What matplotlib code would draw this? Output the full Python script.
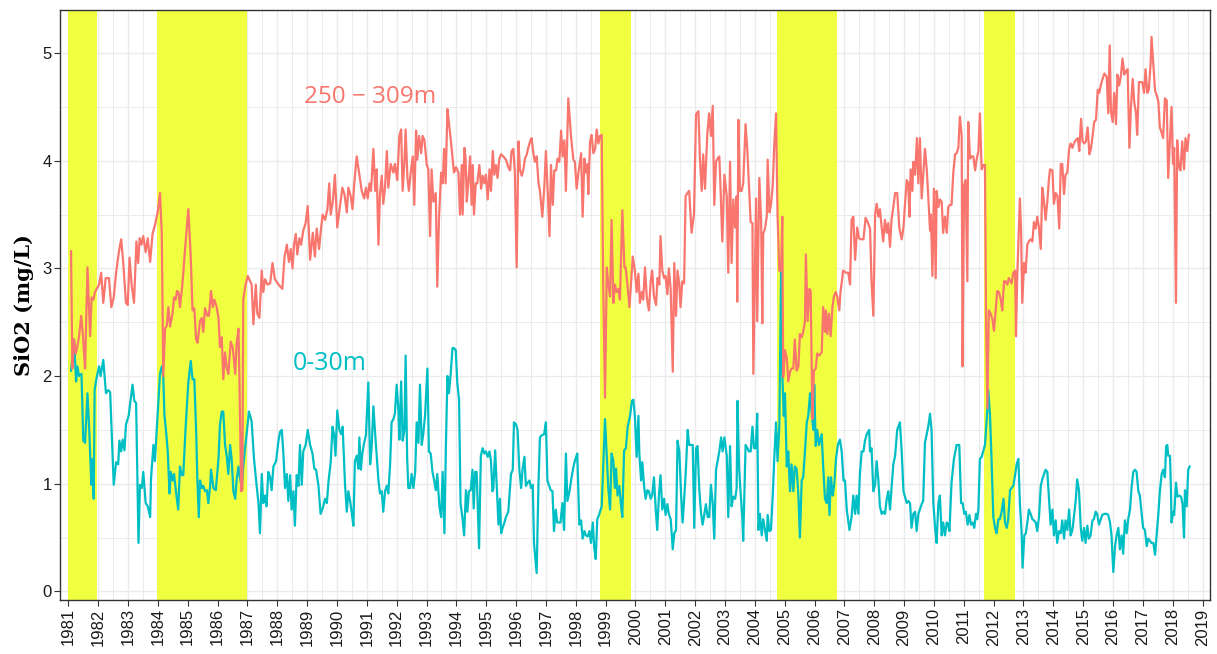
import matplotlib
matplotlib.use("Agg")
import matplotlib.pyplot as plt
from matplotlib.ticker import MultipleLocator

# SiO2 at 250-309 m (decimal year, mg/L)
deep_pts = [
    (1981.09, 3.16), (1981.135, 2.07), (1981.19, 2.34), (1981.25, 2.21), (1981.30, 2.27), (1981.36, 2.37),
    (1981.43, 2.56), (1981.48, 2.41), (1981.56, 2.07), (1981.64, 3.01), (1981.73, 2.37), (1981.78, 2.73),
    (1981.84, 2.71), (1981.89, 2.78), (1981.95, 2.81), (1982.03, 2.85), (1982.10, 2.96), (1982.17, 2.68),
    (1982.25, 2.91), (1982.36, 2.91), (1982.44, 2.64), (1982.52, 2.73), (1982.60, 2.96), (1982.69, 3.15),
    (1982.77, 3.27), (1982.84, 3.05), (1982.93, 2.68), (1982.99, 2.66), (1983.05, 3.10), (1983.12, 2.85),
    (1983.20, 2.68), (1983.28, 3.25), (1983.34, 3.05), (1983.39, 3.28), (1983.45, 3.22), (1983.51, 3.30),
    (1983.59, 3.15), (1983.66, 3.28), (1983.74, 3.06), (1983.82, 3.32), (1983.90, 3.40),
    (1983.99, 3.52), (1984.07, 3.70), (1984.13, 3.32), (1984.18, 2.00), (1984.24, 2.44), (1984.30, 2.47),
    (1984.35, 2.64), (1984.41, 2.46), (1984.49, 2.58), (1984.54, 2.73), (1984.60, 2.71), (1984.64, 2.79),
    (1984.69, 2.78), (1984.74, 2.64), (1984.82, 2.85), (1984.91, 3.18), (1985.02, 3.55), (1985.10, 3.11),
    (1985.16, 2.61), (1985.22, 2.63), (1985.28, 2.34), (1985.33, 2.31), (1985.41, 2.51), (1985.47, 2.54),
    (1985.52, 2.41), (1985.58, 2.63), (1985.66, 2.56), (1985.71, 2.56), (1985.78, 2.79), (1985.84, 2.64),
    (1985.89, 2.71), (1985.97, 2.64), (1986.03, 2.54), (1986.08, 2.27), (1986.14, 2.36), (1986.19, 1.97),
    (1986.25, 2.22), (1986.31, 2.07), (1986.36, 2.02), (1986.44, 2.32), (1986.51, 2.26), (1986.59, 2.02),
    (1986.64, 2.31), (1986.70, 2.44), (1986.73, 2.00), (1986.79, 0.93), (1986.83, 0.94), (1986.86, 2.71),
    (1986.94, 2.85), (1987.01, 2.93), (1987.09, 2.88),
    (1987.14, 2.85), (1987.20, 2.48), (1987.28, 2.85), (1987.33, 2.58), (1987.40, 2.54), (1987.48, 2.98),
    (1987.53, 2.78), (1987.59, 2.90), (1987.67, 2.85), (1987.76, 2.86), (1987.84, 3.05), (1987.92, 2.90),
    (1988.04, 2.85), (1988.17, 2.81), (1988.24, 3.10), (1988.32, 3.22), (1988.39, 3.06), (1988.45, 3.18),
    (1988.51, 3.00), (1988.56, 3.22), (1988.62, 3.32), (1988.67, 3.13), (1988.74, 3.28), (1988.80, 3.22),
    (1988.87, 3.35), (1988.95, 3.42), (1989.02, 3.58), (1989.10, 3.08), (1989.19, 3.33), (1989.26, 3.11),
    (1989.32, 3.37), (1989.40, 3.18), (1989.47, 3.38), (1989.52, 3.50), (1989.60, 3.45), (1989.68, 3.55),
    (1989.74, 3.79), (1989.79, 3.50), (1989.86, 3.62), (1989.93, 3.87), (1990.01, 3.38), (1990.10, 3.58),
    (1990.18, 3.75), (1990.25, 3.69),
    (1990.33, 3.52), (1990.38, 3.75), (1990.46, 3.67), (1990.52, 3.55), (1990.58, 3.79), (1990.66, 4.04),
    (1990.74, 3.89), (1990.83, 3.72), (1990.91, 3.65), (1990.97, 3.75), (1991.03, 3.65), (1991.09, 3.79),
    (1991.14, 3.72), (1991.22, 4.11), (1991.28, 3.72), (1991.33, 3.92), (1991.39, 3.22), (1991.44, 3.69),
    (1991.50, 3.86), (1991.55, 3.60), (1991.61, 3.75), (1991.67, 4.09), (1991.72, 3.75), (1991.80, 3.97),
    (1991.89, 3.89), (1991.94, 3.97), (1992.02, 3.82), (1992.09, 4.23), (1992.15, 4.29), (1992.20, 3.72),
    (1992.26, 3.99), (1992.30, 4.29), (1992.36, 3.84), (1992.41, 3.72), (1992.47, 3.89), (1992.54, 4.04),
    (1992.59, 3.59), (1992.65, 4.28), (1992.69, 4.01), (1992.75, 4.23), (1992.82, 4.07), (1992.87, 4.23),
    (1992.93, 4.19), (1993.01, 3.96), (1993.06, 3.92), (1993.12, 3.30), (1993.17, 3.92), (1993.23, 3.62),
    (1993.31, 3.70), (1993.36, 2.83), (1993.42, 3.48),
    (1993.49, 3.89), (1993.54, 3.79), (1993.59, 4.11), (1993.64, 3.79), (1993.70, 4.48), (1993.76, 4.33),
    (1993.84, 4.12), (1993.92, 3.89), (1993.99, 3.94), (1994.07, 3.89), (1994.12, 3.50), (1994.18, 3.96),
    (1994.21, 3.50), (1994.27, 4.12), (1994.31, 4.02), (1994.35, 3.62), (1994.40, 3.79), (1994.46, 4.04),
    (1994.51, 3.59), (1994.55, 3.96), (1994.59, 3.50), (1994.65, 3.79), (1994.70, 3.79), (1994.77, 3.96),
    (1994.83, 3.74), (1994.88, 3.86), (1994.94, 3.79), (1994.99, 3.87), (1995.05, 3.64), (1995.11, 3.92),
    (1995.16, 3.72), (1995.22, 4.09), (1995.27, 3.87), (1995.33, 3.96), (1995.38, 3.84), (1995.44, 4.02),
    (1995.50, 4.06), (1995.57, 4.04), (1995.66, 4.01), (1995.74, 3.94), (1995.80, 3.91), (1995.85, 4.09),
    (1995.91, 4.11), (1995.96, 3.89), (1996.02, 3.01), (1996.08, 4.18), (1996.13, 3.92), (1996.19, 3.86),
    (1996.24, 3.91), (1996.30, 4.02), (1996.36, 4.06), (1996.41, 4.12), (1996.47, 4.18), (1996.52, 4.21),
    (1996.58, 4.07), (1996.63, 3.99),
    (1996.69, 4.04), (1996.75, 3.80), (1996.80, 3.72), (1996.88, 3.48), (1996.95, 3.77), (1997.00, 4.09),
    (1997.06, 3.72), (1997.12, 3.30), (1997.17, 3.96), (1997.23, 3.59), (1997.28, 3.91), (1997.34, 3.91),
    (1997.39, 4.02), (1997.45, 3.99), (1997.51, 4.28), (1997.56, 4.04), (1997.62, 4.19), (1997.67, 3.72),
    (1997.75, 4.58), (1997.84, 4.23), (1997.92, 4.01), (1997.97, 3.99), (1998.03, 3.74), (1998.09, 3.89),
    (1998.18, 4.07), (1998.23, 3.48), (1998.29, 4.02), (1998.34, 3.89), (1998.39, 3.97), (1998.42, 3.69),
    (1998.48, 4.18), (1998.53, 4.24), (1998.59, 4.07), (1998.65, 4.11), (1998.70, 4.29), (1998.76, 4.16),
    (1998.81, 4.23), (1998.87, 4.24), (1998.92, 2.85), (1998.98, 1.80), (1999.04, 3.01), (1999.09, 2.85),
    (1999.15, 2.74), (1999.20, 3.45), (1999.26, 2.68), (1999.31, 2.85), (1999.37, 2.78), (1999.43, 2.81),
    (1999.48, 2.71), (1999.56, 3.54), (1999.63, 3.01), (1999.67, 3.01), (1999.73, 2.85), (1999.80, 2.64),
    (1999.91, 3.11), (1999.98, 2.98), (2000.04, 2.78), (2000.10, 2.95), (2000.15, 2.68), (2000.21, 2.78),
    (2000.26, 2.71), (2000.32, 3.01), (2000.38, 2.73), (2000.45, 2.61), (2000.51, 2.88), (2000.56, 2.98),
    (2000.62, 2.74), (2000.69, 2.66), (2000.74, 2.91), (2000.80, 2.85), (2000.84, 3.30), (2000.90, 2.98),
    (2000.96, 2.91), (2001.01, 2.93), (2001.07, 2.76), (2001.12, 3.00), (2001.18, 2.81), (2001.25, 2.04),
    (2001.30, 3.05), (2001.36, 2.56), (2001.41, 2.98), (2001.47, 2.85), (2001.51, 2.64), (2001.57, 2.88),
    (2001.63, 2.86), (2001.68, 3.67), (2001.74, 3.70), (2001.80, 3.72), (2001.88, 3.33), (2001.96, 3.50),
    (2002.03, 4.43), (2002.11, 4.46), (2002.16, 4.02), (2002.22, 3.72), (2002.27, 4.06), (2002.33, 3.74),
    (2002.41, 4.26), (2002.47, 4.44), (2002.53, 4.23), (2002.59, 4.51), (2002.64, 3.59), (2002.70, 3.99),
    (2002.75, 4.02), (2002.81, 4.04), (2002.85, 3.75), (2002.91, 3.25), (2002.98, 3.87),
    (2003.06, 3.67), (2003.11, 2.96), (2003.17, 3.99), (2003.22, 3.05), (2003.28, 3.64), (2003.34, 3.38),
    (2003.39, 3.67), (2003.41, 2.69), (2003.45, 4.38), (2003.50, 3.72), (2003.56, 3.72), (2003.61, 3.79),
    (2003.69, 4.34), (2003.75, 4.09), (2003.80, 3.79), (2003.86, 3.43), (2003.92, 3.42), (2003.95, 2.02),
    (2004.01, 3.13), (2004.04, 3.65), (2004.08, 2.51), (2004.15, 3.84), (2004.21, 3.45), (2004.25, 2.49),
    (2004.28, 3.32), (2004.34, 3.37), (2004.40, 3.48), (2004.43, 4.01), (2004.49, 3.52), (2004.54, 3.59),
    (2004.60, 3.77), (2004.65, 4.14), (2004.71, 4.44), (2004.76, 3.50), (2004.82, 2.98), (2004.88, 2.98),
    (2004.92, 3.48), (2004.95, 1.99), (2005.01, 2.24), (2005.07, 2.17), (2005.12, 1.95), (2005.18, 2.04),
    (2005.23, 2.07), (2005.29, 2.07), (2005.34, 2.34), (2005.40, 2.05), (2005.46, 2.09), (2005.51, 2.39),
    (2005.57, 2.36), (2005.62, 2.41), (2005.68, 2.51), (2005.71, 3.13), (2005.77, 2.51), (2005.83, 2.81),
    (2005.87, 2.79), (2005.93, 1.60), (2005.98, 2.05), (2006.04, 2.07), (2006.09, 2.21), (2006.16, 2.19),
    (2006.24, 2.22), (2006.29, 2.64), (2006.35, 2.41), (2006.38, 2.61), (2006.43, 2.39), (2006.48, 2.58),
    (2006.54, 2.37), (2006.60, 2.64), (2006.65, 2.74), (2006.71, 2.78), (2006.76, 2.74), (2006.83, 2.61),
    (2006.87, 2.78), (2006.96, 2.98), (2007.05, 2.96), (2007.13, 2.96), (2007.19, 2.85), (2007.24, 3.45),
    (2007.30, 3.48), (2007.36, 3.08), (2007.43, 3.38), (2007.49, 3.28), (2007.56, 3.27), (2007.64, 3.27),
    (2007.71, 3.47), (2007.78, 3.43), (2007.86, 3.37), (2007.91, 2.88), (2007.97, 2.56), (2008.03, 3.50),
    (2008.08, 3.60), (2008.14, 3.48), (2008.19, 3.55), (2008.25, 3.38), (2008.30, 3.25), (2008.36, 3.45),
    (2008.42, 3.33), (2008.47, 3.42), (2008.53, 3.20), (2008.58, 3.45), (2008.64, 3.57), (2008.70, 3.70),
    (2008.77, 3.70), (2008.84, 3.38), (2008.92, 3.27), (2008.98, 3.38), (2009.03, 3.59), (2009.09, 3.82),
    (2009.14, 3.79), (2009.18, 3.48), (2009.22, 3.92), (2009.28, 3.72), (2009.31, 3.99), (2009.37, 3.87),
    (2009.43, 4.21), (2009.48, 3.79), (2009.53, 4.21), (2009.59, 3.65), (2009.64, 3.86), (2009.70, 4.11),
    (2009.76, 3.92), (2009.81, 3.67), (2009.87, 3.35), (2009.90, 3.50), (2009.95, 2.93), (2010.00, 3.74),
    (2010.06, 2.91), (2010.09, 3.72), (2010.15, 3.57), (2010.20, 3.64), (2010.26, 3.62), (2010.31, 3.33),
    (2010.37, 3.48), (2010.43, 3.33), (2010.48, 3.57), (2010.54, 3.59), (2010.59, 3.59), (2010.65, 3.89),
    (2010.71, 4.06), (2010.76, 4.07), (2010.82, 4.12), (2010.87, 4.41), (2010.93, 4.23), (2010.96, 2.09),
    (2011.01, 3.77), (2011.06, 3.82), (2011.12, 2.88), (2011.15, 4.36), (2011.21, 4.02), (2011.26, 4.04),
    (2011.32, 4.04), (2011.38, 3.91), (2011.43, 4.01), (2011.49, 4.09), (2011.54, 4.44), (2011.60, 3.92),
    (2011.65, 3.96), (2011.71, 3.96), (2011.75, 2.44), (2011.79, 1.70), (2011.84, 2.61), (2011.90, 2.58),
    (2011.96, 2.53), (2012.01, 2.42), (2012.07, 2.61), (2012.12, 2.79), (2012.18, 2.78), (2012.24, 2.71),
    (2012.29, 2.61), (2012.35, 2.88), (2012.40, 2.88), (2012.46, 2.85), (2012.51, 2.91),
    (2012.60, 2.86), (2012.66, 2.96), (2012.72, 2.98), (2012.75, 2.37), (2012.79, 2.91), (2012.85, 3.42),
    (2012.88, 3.65), (2012.92, 3.35), (2012.96, 2.68), (2013.02, 3.05), (2013.07, 2.96), (2013.13, 3.22),
    (2013.18, 3.25), (2013.24, 3.27), (2013.30, 3.25), (2013.35, 3.43), (2013.41, 3.37), (2013.46, 3.48),
    (2013.52, 3.38), (2013.58, 3.18), (2013.63, 3.75), (2013.69, 3.62), (2013.74, 3.45), (2013.80, 3.62),
    (2013.85, 3.82), (2013.89, 3.92), (2013.97, 3.91), (2014.02, 3.60), (2014.08, 3.70), (2014.14, 3.67),
    (2014.20, 3.37), (2014.25, 3.97), (2014.30, 3.97), (2014.36, 3.69), (2014.41, 3.87), (2014.47, 3.89),
    (2014.53, 4.11), (2014.58, 4.16), (2014.64, 4.12), (2014.69, 4.16), (2014.75, 4.19), (2014.82, 4.21),
    (2014.87, 4.09), (2014.93, 4.39), (2014.98, 4.18), (2015.04, 4.16), (2015.09, 4.18), (2015.15, 4.31),
    (2015.21, 4.06), (2015.26, 4.11), (2015.32, 4.24), (2015.37, 4.36), (2015.43, 4.38), (2015.49, 4.66),
    (2015.54, 4.63), (2015.60, 4.71), (2015.65, 4.76), (2015.71, 4.81),
    (2015.79, 4.78), (2015.84, 4.44), (2015.89, 5.07), (2015.93, 4.46), (2015.99, 4.36), (2016.04, 4.63),
    (2016.10, 4.34), (2016.15, 4.80), (2016.21, 4.70), (2016.27, 4.80), (2016.32, 4.95), (2016.38, 4.80),
    (2016.43, 4.83), (2016.49, 4.85), (2016.55, 4.12), (2016.60, 4.49), (2016.66, 4.76), (2016.71, 4.55),
    (2016.77, 4.44), (2016.81, 4.24), (2016.87, 4.73), (2016.93, 4.73), (2016.98, 4.73), (2017.04, 4.63),
    (2017.09, 4.85), (2017.15, 4.63), (2017.20, 4.66), (2017.26, 4.90), (2017.29, 5.15), (2017.35, 4.90),
    (2017.41, 4.65), (2017.46, 4.61), (2017.52, 4.55), (2017.57, 4.31), (2017.63, 4.26), (2017.68, 4.21),
    (2017.74, 4.58), (2017.80, 4.56), (2017.85, 3.84), (2017.91, 4.19), (2017.96, 4.50), (2018.01, 3.97),
    (2018.05, 4.12), (2018.11, 2.68), (2018.15, 4.19), (2018.21, 3.94), (2018.26, 3.91), (2018.32, 4.18),
    (2018.38, 3.92), (2018.43, 4.21), (2018.49, 4.09), (2018.54, 4.24),
]

# SiO2 at 0-30 m
surf_pts = [
    (1981.09, 2.05), (1981.19, 2.34), (1981.26, 1.95), (1981.30, 2.09), (1981.36, 2.00), (1981.44, 2.02),
    (1981.50, 1.40), (1981.56, 1.38), (1981.64, 1.84), (1981.70, 1.50), (1981.77, 0.99), (1981.81, 1.23),
    (1981.85, 0.86), (1981.88, 1.87), (1981.95, 1.99), (1982.03, 2.09), (1982.08, 2.00), (1982.17, 2.15),
    (1982.26, 1.84), (1982.34, 1.87), (1982.40, 1.85), (1982.52, 0.99), (1982.60, 1.20), (1982.67, 1.18),
    (1982.71, 1.40), (1982.77, 1.30), (1982.82, 1.41), (1982.88, 1.31), (1982.93, 1.55), (1983.02, 1.63),
    (1983.15, 1.92), (1983.21, 1.77), (1983.27, 1.75), (1983.35, 0.45), (1983.40, 0.99), (1983.46, 0.96),
    (1983.51, 1.11), (1983.59, 0.82), (1983.66, 0.79), (1983.74, 0.69), (1983.77, 1.05), (1983.85, 1.36),
    (1983.90, 1.21),
    (1983.99, 1.63), (1984.07, 2.02), (1984.13, 2.09), (1984.18, 1.99), (1984.22, 1.63), (1984.27, 1.50),
    (1984.33, 1.30), (1984.39, 0.91), (1984.43, 1.11), (1984.49, 1.03), (1984.54, 1.09), (1984.60, 0.94),
    (1984.68, 0.76), (1984.74, 1.16), (1984.80, 1.08), (1984.85, 1.08), (1984.93, 1.53), (1985.02, 1.94),
    (1985.10, 2.14), (1985.16, 1.97), (1985.22, 1.97), (1985.28, 1.50), (1985.32, 1.06), (1985.37, 0.69),
    (1985.41, 1.03), (1985.47, 0.96), (1985.52, 0.98), (1985.58, 0.93), (1985.64, 0.94), (1985.69, 0.82),
    (1985.75, 0.98), (1985.78, 1.13), (1985.86, 0.96), (1985.94, 0.94), (1986.03, 1.23), (1986.08, 1.55),
    (1986.14, 1.67), (1986.19, 1.67), (1986.25, 1.36), (1986.31, 1.25), (1986.36, 1.09), (1986.42, 1.36),
    (1986.47, 1.23), (1986.53, 0.93), (1986.59, 0.86), (1986.64, 1.04), (1986.70, 1.16), (1986.75, 1.06),
    (1986.81, 0.96), (1986.86, 1.16), (1986.97, 1.46), (1987.05, 1.67),
    (1987.14, 1.58), (1987.22, 1.23), (1987.29, 1.03), (1987.37, 0.82), (1987.42, 0.54), (1987.48, 1.09),
    (1987.53, 0.82), (1987.59, 0.89), (1987.64, 0.79), (1987.70, 1.11), (1987.76, 1.06), (1987.81, 0.94),
    (1987.87, 1.16), (1987.96, 1.21), (1988.04, 1.40), (1988.09, 1.48), (1988.15, 1.50), (1988.20, 1.30),
    (1988.26, 0.96), (1988.32, 1.09), (1988.37, 0.84), (1988.43, 1.08), (1988.48, 0.76), (1988.54, 0.93),
    (1988.59, 0.61), (1988.65, 1.08), (1988.71, 0.98), (1988.76, 1.36), (1988.82, 0.99), (1988.87, 1.30),
    (1988.95, 1.36), (1989.02, 1.50), (1989.10, 1.36), (1989.18, 1.28), (1989.24, 1.14), (1989.30, 1.13),
    (1989.38, 0.98), (1989.45, 0.72), (1989.52, 0.77), (1989.60, 0.86), (1989.66, 0.82), (1989.72, 1.03),
    (1989.79, 1.20), (1989.85, 1.53), (1989.90, 1.46), (1989.95, 1.26), (1990.01, 1.68), (1990.08, 1.50),
    (1990.14, 1.46), (1990.19, 1.53), (1990.27, 0.99),
    (1990.33, 0.74), (1990.38, 0.93), (1990.44, 0.84), (1990.49, 0.74), (1990.55, 0.61), (1990.60, 1.21),
    (1990.66, 1.26), (1990.72, 1.14), (1990.75, 1.43), (1990.80, 1.13), (1990.85, 1.28), (1990.91, 1.38),
    (1990.97, 1.45), (1991.05, 1.94), (1991.11, 1.18), (1991.16, 1.33), (1991.22, 1.72), (1991.28, 1.46),
    (1991.33, 1.26), (1991.39, 1.03), (1991.44, 0.91), (1991.50, 0.93), (1991.55, 0.74), (1991.61, 0.93),
    (1991.67, 0.98), (1991.72, 0.91), (1991.78, 1.18), (1991.83, 1.57), (1991.89, 1.60), (1991.94, 1.65),
    (1992.00, 1.92), (1992.06, 1.67), (1992.09, 1.41), (1992.15, 1.95), (1992.20, 1.40), (1992.26, 1.50),
    (1992.30, 2.19), (1992.35, 1.25), (1992.39, 0.96), (1992.45, 0.96), (1992.50, 1.09), (1992.56, 0.96),
    (1992.62, 1.11), (1992.67, 1.57), (1992.73, 1.38), (1992.78, 1.92), (1992.84, 1.36), (1992.89, 1.46),
    (1992.95, 1.63), (1993.03, 2.07), (1993.08, 1.30), (1993.14, 1.28), (1993.20, 1.11), (1993.25, 1.04),
    (1993.31, 0.94), (1993.36, 1.09), (1993.43, 0.79),
    (1993.49, 0.69), (1993.54, 1.11), (1993.60, 0.54), (1993.65, 1.36), (1993.70, 2.00), (1993.75, 1.84),
    (1993.81, 2.02), (1993.87, 2.26), (1993.92, 2.26), (1993.98, 2.24), (1994.03, 1.94), (1994.09, 1.78),
    (1994.14, 0.82), (1994.20, 0.69), (1994.26, 0.52), (1994.32, 0.94), (1994.37, 0.74), (1994.42, 0.93),
    (1994.48, 0.94), (1994.54, 1.13), (1994.58, 0.77), (1994.63, 1.11), (1994.68, 1.11), (1994.76, 0.40),
    (1994.82, 1.26), (1994.88, 1.33), (1994.94, 1.28), (1994.99, 1.30), (1995.05, 1.25), (1995.11, 1.30),
    (1995.16, 1.21), (1995.21, 0.93), (1995.24, 0.96), (1995.30, 1.31), (1995.35, 0.99), (1995.41, 0.62),
    (1995.46, 0.86), (1995.50, 0.54), (1995.55, 0.59), (1995.61, 0.64), (1995.66, 0.69), (1995.74, 0.74),
    (1995.80, 0.98), (1995.83, 1.09), (1995.89, 1.13), (1995.93, 1.57), (1996.00, 1.55), (1996.05, 1.50),
    (1996.11, 1.13), (1996.17, 0.96), (1996.22, 1.14), (1996.28, 1.25), (1996.33, 0.98), (1996.39, 1.01),
    (1996.45, 1.03), (1996.50, 0.96), (1996.56, 0.99), (1996.60, 0.45),
    (1996.69, 0.17), (1996.75, 0.99), (1996.80, 1.43), (1996.86, 1.45), (1996.94, 1.46), (1997.00, 1.57),
    (1997.05, 1.03), (1997.10, 0.99), (1997.16, 0.94), (1997.22, 0.93), (1997.27, 0.56), (1997.33, 0.76),
    (1997.38, 0.64), (1997.44, 0.64), (1997.49, 0.64), (1997.55, 0.82), (1997.61, 0.57), (1997.67, 1.28),
    (1997.72, 0.84), (1997.79, 0.93), (1997.86, 1.06), (1997.94, 1.18), (1997.99, 1.23), (1998.05, 1.28),
    (1998.12, 0.62), (1998.18, 0.66), (1998.23, 0.49), (1998.29, 0.56), (1998.34, 0.52), (1998.40, 0.51),
    (1998.46, 0.56), (1998.51, 0.45), (1998.57, 0.64), (1998.62, 0.40), (1998.67, 0.30), (1998.72, 0.67),
    (1998.78, 0.71), (1998.87, 0.79), (1998.92, 1.16), (1998.98, 1.60), (1999.04, 1.26), (1999.09, 0.96),
    (1999.15, 0.76), (1999.20, 1.28), (1999.26, 1.21), (1999.31, 0.96), (1999.35, 1.14), (1999.40, 0.89),
    (1999.46, 0.98), (1999.51, 0.82), (1999.56, 0.69), (1999.62, 1.31), (1999.68, 1.33), (1999.74, 1.53),
    (1999.82, 1.63), (1999.88, 1.77), (1999.93, 1.78),
    (1999.98, 1.63), (2000.04, 1.25), (2000.10, 1.63), (2000.13, 1.28), (2000.19, 1.03), (2000.23, 1.20),
    (2000.29, 0.98), (2000.34, 0.86), (2000.40, 0.94), (2000.45, 0.93), (2000.51, 0.86), (2000.56, 0.89),
    (2000.62, 1.06), (2000.68, 0.76), (2000.73, 0.57), (2000.79, 0.91), (2000.84, 1.08), (2000.90, 0.76),
    (2000.96, 0.86), (2001.01, 0.71), (2001.07, 0.81), (2001.12, 0.72), (2001.18, 0.67), (2001.25, 0.39),
    (2001.30, 0.54), (2001.36, 0.57), (2001.41, 1.40), (2001.47, 1.30), (2001.53, 0.89), (2001.58, 0.64),
    (2001.64, 0.89), (2001.69, 1.13), (2001.75, 1.50), (2001.80, 1.36), (2001.86, 1.36), (2001.92, 1.36),
    (2001.97, 0.59), (2002.03, 1.33), (2002.08, 1.35), (2002.14, 0.94), (2002.20, 0.72), (2002.25, 0.62),
    (2002.31, 0.72), (2002.36, 0.81), (2002.42, 0.69), (2002.47, 0.69), (2002.53, 0.99), (2002.59, 0.81),
    (2002.64, 0.49), (2002.70, 1.13), (2002.75, 1.21), (2002.81, 1.30), (2002.87, 1.43), (2002.92, 1.30),
    (2002.98, 1.43),
    (2003.06, 1.26), (2003.11, 0.69), (2003.17, 1.35), (2003.22, 0.79), (2003.28, 0.88), (2003.34, 0.86),
    (2003.39, 0.96), (2003.42, 1.77), (2003.47, 1.16), (2003.52, 0.93), (2003.58, 0.69), (2003.61, 0.47),
    (2003.69, 1.36), (2003.75, 1.33), (2003.80, 1.30), (2003.86, 1.30), (2003.92, 1.53), (2003.97, 1.33),
    (2004.03, 1.33), (2004.08, 1.65), (2004.12, 0.57), (2004.17, 0.72), (2004.23, 0.52), (2004.28, 0.67),
    (2004.34, 0.57), (2004.40, 0.47), (2004.43, 0.71), (2004.49, 0.56), (2004.54, 0.57), (2004.60, 0.89),
    (2004.65, 1.23), (2004.71, 1.57), (2004.76, 1.21), (2004.82, 1.53), (2004.88, 2.98), (2004.92, 2.02),
    (2004.97, 1.63), (2005.01, 1.84), (2005.07, 1.16), (2005.12, 1.30), (2005.18, 0.93), (2005.23, 1.18),
    (2005.29, 0.93), (2005.34, 1.16), (2005.40, 1.14), (2005.46, 0.89), (2005.51, 0.50), (2005.57, 1.03),
    (2005.62, 1.06), (2005.68, 1.30), (2005.74, 1.57), (2005.79, 1.63), (2005.85, 1.84), (2005.90, 1.67),
    (2005.96, 1.50), (2005.99, 1.92), (2006.04, 1.35), (2006.09, 1.50), (2006.15, 1.36),
    (2006.24, 1.46), (2006.29, 1.16), (2006.35, 0.86), (2006.41, 0.82), (2006.46, 1.06), (2006.50, 0.71),
    (2006.55, 1.06), (2006.61, 0.89), (2006.66, 0.99), (2006.72, 1.23), (2006.78, 1.36), (2006.85, 1.41),
    (2006.91, 1.30), (2006.97, 1.03), (2007.02, 1.03), (2007.08, 0.76), (2007.17, 0.57), (2007.24, 0.69),
    (2007.30, 0.89), (2007.36, 0.72), (2007.41, 0.89), (2007.47, 0.72), (2007.52, 1.09), (2007.58, 1.30),
    (2007.64, 1.30), (2007.69, 1.40), (2007.75, 1.46), (2007.83, 1.50), (2007.86, 1.30), (2007.91, 1.33),
    (2007.97, 0.93), (2008.03, 0.99), (2008.08, 1.21), (2008.14, 1.03), (2008.19, 0.79), (2008.25, 0.72),
    (2008.30, 0.74), (2008.36, 0.72), (2008.42, 0.86), (2008.47, 0.93), (2008.53, 0.76), (2008.58, 0.96),
    (2008.64, 1.18), (2008.70, 1.26), (2008.77, 1.50), (2008.86, 1.57), (2008.92, 1.30), (2008.98, 0.93),
    (2009.03, 0.88), (2009.09, 0.82), (2009.14, 0.84), (2009.20, 0.82), (2009.25, 0.59), (2009.31, 0.72),
    (2009.37, 0.74),
    (2009.42, 0.56), (2009.48, 0.72), (2009.53, 0.76), (2009.59, 0.81), (2009.64, 0.84), (2009.70, 1.38),
    (2009.76, 1.46), (2009.81, 1.53), (2009.87, 1.65), (2009.92, 1.50), (2009.98, 0.82), (2010.04, 0.59),
    (2010.09, 0.45), (2010.15, 0.82), (2010.20, 0.89), (2010.26, 0.52), (2010.31, 0.64), (2010.37, 0.52),
    (2010.43, 0.64), (2010.48, 0.62), (2010.52, 0.56), (2010.59, 1.01), (2010.67, 1.23), (2010.76, 1.36),
    (2010.85, 1.36), (2010.91, 0.82), (2010.96, 0.82), (2011.02, 0.72), (2011.07, 0.74), (2011.13, 0.62),
    (2011.19, 0.71), (2011.24, 0.62), (2011.30, 0.64), (2011.35, 0.59), (2011.41, 0.72), (2011.45, 0.67),
    (2011.49, 0.76), (2011.54, 1.23), (2011.60, 1.25), (2011.65, 1.30), (2011.71, 1.36), (2011.77, 1.60),
    (2011.82, 1.87), (2011.88, 1.63), (2011.93, 1.23), (2011.99, 0.69), (2012.05, 0.59), (2012.10, 0.54),
    (2012.16, 0.67), (2012.21, 0.67), (2012.27, 0.74), (2012.33, 0.86), (2012.38, 0.64), (2012.44, 0.59),
    (2012.49, 0.67), (2012.55, 0.94),
    (2012.60, 0.96), (2012.66, 0.98), (2012.72, 1.08), (2012.77, 1.18), (2012.83, 1.23), (2012.88, 0.82),
    (2012.94, 0.54), (2012.97, 0.22), (2013.03, 0.52), (2013.08, 0.54), (2013.14, 0.66), (2013.18, 0.76),
    (2013.24, 0.72), (2013.30, 0.67), (2013.35, 0.66), (2013.41, 0.64), (2013.46, 0.56), (2013.52, 0.69),
    (2013.58, 0.98), (2013.63, 1.04), (2013.69, 1.09), (2013.74, 1.13), (2013.80, 1.11), (2013.85, 0.89),
    (2013.91, 0.62), (2013.97, 0.76), (2014.02, 0.52), (2014.08, 0.66), (2014.13, 0.45), (2014.19, 0.56),
    (2014.25, 0.54), (2014.30, 0.66), (2014.36, 0.49), (2014.41, 0.66), (2014.47, 0.57), (2014.53, 0.76),
    (2014.58, 0.52), (2014.64, 0.57), (2014.69, 0.69), (2014.75, 0.84), (2014.80, 1.04), (2014.86, 0.94),
    (2014.92, 0.59), (2014.97, 0.47), (2015.03, 0.59), (2015.08, 0.45), (2015.14, 0.61), (2015.19, 0.49),
    (2015.25, 0.52), (2015.31, 0.66), (2015.36, 0.67), (2015.42, 0.74), (2015.47, 0.72), (2015.53, 0.62),
    (2015.59, 0.67), (2015.64, 0.71), (2015.71, 0.72),
    (2015.79, 0.72), (2015.84, 0.71), (2015.90, 0.64), (2015.95, 0.52), (2016.01, 0.18), (2016.07, 0.42),
    (2016.12, 0.52), (2016.18, 0.59), (2016.23, 0.39), (2016.29, 0.52), (2016.34, 0.35), (2016.40, 0.66),
    (2016.46, 0.54), (2016.51, 0.67), (2016.57, 0.76), (2016.62, 0.96), (2016.68, 1.11), (2016.74, 1.13),
    (2016.79, 1.11), (2016.85, 0.93), (2016.90, 0.89), (2016.96, 0.72), (2017.01, 0.59), (2017.07, 0.57),
    (2017.13, 0.42), (2017.18, 0.49), (2017.24, 0.47), (2017.29, 0.45), (2017.35, 0.45), (2017.41, 0.34),
    (2017.46, 0.52), (2017.52, 0.72), (2017.57, 0.93), (2017.63, 1.09), (2017.68, 1.13), (2017.74, 1.06),
    (2017.78, 1.35), (2017.82, 1.36), (2017.85, 1.26), (2017.91, 1.26), (2017.94, 0.96), (2017.96, 0.64),
    (2018.02, 0.74), (2018.05, 0.71), (2018.11, 1.01), (2018.16, 0.88), (2018.22, 0.89), (2018.28, 0.88),
    (2018.33, 0.81), (2018.38, 0.50), (2018.41, 0.94), (2018.47, 0.79), (2018.52, 1.13), (2018.57, 1.16),
]

# highlighted periods (start, end) in decimal years
bands = [(1981.0, 1981.97), (1983.96, 1986.99), (1998.80, 1999.84), (2004.74, 2006.74), (2011.67, 2012.72)]

years = list(range(1981, 2020))
deep_label = "250 \u2212 309m"
surf_label = "0-30m"

deep_t = [p[0] for p in deep_pts]
deep_v = [p[1] for p in deep_pts]
surf_t = [p[0] for p in surf_pts]
surf_v = [p[1] for p in surf_pts]

fig = plt.figure(figsize=(12.17, 6.54), dpi=100)
ax = fig.add_axes([60 / 1217, 54 / 654, 1150 / 1217, 590 / 654])

for a, b in bands:
    ax.axvspan(a, b, color="#F0FF40", lw=0, zorder=1)

ax.plot(surf_t, surf_v, color="#00BFC4", lw=1.6, zorder=3)
ax.plot(deep_t, deep_v, color="#F8766D", lw=1.6, zorder=3)

ax.text(1991.1, 4.59, deep_label, color="#F8766D", fontsize=17.5,
        family=["Open Sans", "DejaVu Sans"], ha="center", va="center")
ax.text(1989.75, 2.12, surf_label, color="#00BFC4", fontsize=18,
        family=["Open Sans", "DejaVu Sans"], ha="center", va="center")

ax.set_xlim(1980.72, 2019.25)
ax.set_ylim(-0.08, 5.40)
ax.set_xticks(years)
ax.set_xticklabels([str(y) for y in years], rotation=90, fontsize=12,
                   family="Liberation Sans", color="#1a1a1a")
ax.xaxis.set_minor_locator(MultipleLocator(0.5))
ax.set_yticks(range(0, 6))
ax.set_yticklabels([str(v) for v in range(0, 6)], fontsize=12,
                   family="Liberation Sans", color="#1a1a1a")
ax.yaxis.set_minor_locator(MultipleLocator(0.5))
ax.tick_params(which="major", length=4, width=0.8, color="#333333", pad=2)
ax.tick_params(which="minor", length=0)

ax.set_axisbelow(True)
ax.grid(which="major", color="#EBEBEB", lw=1.0)
ax.grid(which="minor", color="#EBEBEB", lw=0.7)
for s in ax.spines.values():
    s.set_color("#333333")
    s.set_linewidth(1.0)

ax.set_ylabel("SiO2 (mg/L)", fontsize=15, fontweight="bold", family="DejaVu Serif", labelpad=6)

fig.savefig("out.png", dpi=100)
